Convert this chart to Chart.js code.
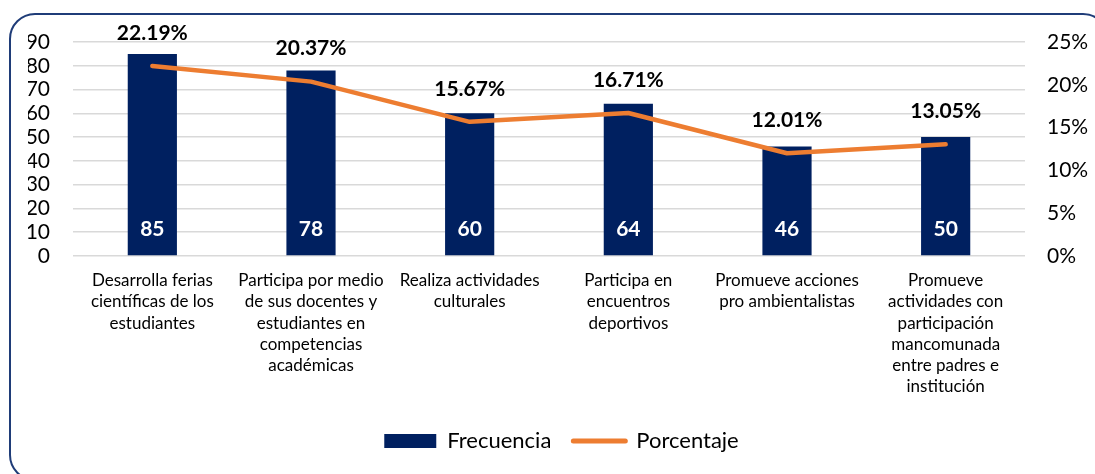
<!DOCTYPE html>
<html>
<head>
<meta charset="utf-8">
<script src="https://cdn.jsdelivr.net/npm/chart.js@4"></script>
<style>
  html, body { margin: 0; padding: 0; background: #fff; overflow: hidden; }
  #wrap { position: relative; width: 1095px; height: 474px; overflow: hidden; }
  #frame {
    position: absolute; left: 9px; top: 13px; width: 1100px; height: 468px;
    border: 2px solid #1f3c78; border-radius: 26px; box-sizing: border-box;
  }
  canvas { position: absolute; left: 0; top: 0; }
</style>
</head>
<body>
<div id="wrap">
  <div id="frame"></div>
  <canvas id="myChart" width="1095" height="474"></canvas>
</div>
<script>
const categories = [
  ['Desarrolla ferias', 'científicas de los', 'estudiantes'],
  ['Participa por medio', 'de sus docentes y', 'estudiantes en', 'competencias', 'académicas'],
  ['Realiza actividades', 'culturales'],
  ['Participa en', 'encuentros', 'deportivos'],
  ['Promueve acciones', 'pro ambientalistas'],
  ['Promueve', 'actividades con', 'participación', 'mancomunada', 'entre padres e', 'institución'],
];
const frecuencia = [85, 78, 60, 64, 46, 50];
const porcentaje = [22.19, 20.37, 15.67, 16.71, 12.01, 13.05];
const leftTicks = [0, 10, 20, 30, 40, 50, 60, 70, 80, 90];
const rightTicks = [0, 5, 10, 15, 20, 25];

const fontFamily = 'Lato, "Open Sans", sans-serif';

// draws the value labels: counts inside bars, percentages above the line
const valueLabels = {
  id: 'valueLabels',
  afterDatasetsDraw(chart) {
    const ctx = chart.ctx;
    ctx.save();
    ctx.textAlign = 'center';
    ctx.textBaseline = 'middle';
    const bars = chart.getDatasetMeta(0).data;
    const yScale = chart.scales.y;
    ctx.font = 'bold 21px ' + fontFamily;
    ctx.fillStyle = '#ffffff';
    bars.forEach((bar, i) => {
      ctx.fillText(String(frecuencia[i]), bar.x, yScale.bottom - 27);
    });
    const points = chart.getDatasetMeta(1).data;
    ctx.fillStyle = '#000000';
    points.forEach((pt, i) => {
      ctx.fillText(porcentaje[i].toFixed(2) + '%', pt.x, pt.y - 33);
    });
    ctx.restore();
  },
};

const ctx = document.getElementById('myChart').getContext('2d');
const myChart = new Chart(ctx, {
  data: {
    labels: categories,
    datasets: [
      {
        type: 'bar',
        label: 'Frecuencia',
        data: frecuencia,
        backgroundColor: '#002060',
        barPercentage: 0.31,
        categoryPercentage: 1,
        yAxisID: 'y',
        order: 2,
      },
      {
        type: 'line',
        label: 'Porcentaje',
        data: porcentaje,
        borderColor: '#ED7D31',
        backgroundColor: '#ED7D31',
        borderWidth: 4.5,
        borderCapStyle: 'round',
        borderJoinStyle: 'round',
        pointRadius: 0,
        tension: 0,
        yAxisID: 'y1',
        order: 1,
      },
    ],
  },
  options: {
    responsive: false,
    animation: false,
    layout: { padding: { top: 42, left: 28, right: 0, bottom: 12 } },
    plugins: {
      tooltip: { enabled: false },
      legend: {
        position: 'bottom',
        labels: {
          font: { family: fontFamily, size: 22 },
          color: '#000',
          usePointStyle: true,
          pointStyleWidth: 52,
          boxHeight: 14,
          padding: 22,
          sort: (a, b) => a.datasetIndex - b.datasetIndex,
          generateLabels(chart) {
            const items = Chart.defaults.plugins.legend.labels.generateLabels(chart);
            items.forEach(item => {
              if (item.datasetIndex === 0) {
                item.pointStyle = 'rect';
                item.lineWidth = 0;
              } else {
                item.pointStyle = 'line';
                item.lineWidth = 5;
                item.lineCap = 'round';
              }
            });
            return items;
          },
        },
      },
    },
    scales: {
      x: {
        grid: { display: false, drawTicks: false },
        border: { display: false },
        ticks: {
          color: '#000',
          font: { family: fontFamily, size: 17, lineHeight: 1.25 },
          padding: 14,
          maxRotation: 0,
          autoSkip: false,
        },
        afterFit(scale) { scale.height = 152; },
      },
      y: {
        position: 'left',
        min: 0,
        max: 90,
        afterBuildTicks(scale) { scale.ticks = leftTicks.map(v => ({ value: v })); },
        grid: { color: '#d9d9d9', lineWidth: 1.5, drawTicks: false },
        border: { display: false },
        ticks: {
          color: '#000',
          font: { family: fontFamily, size: 21 },
          padding: 23,
          autoSkip: false,
        },
        afterFit(scale) { scale.width = 45; },
      },
      y1: {
        position: 'right',
        min: 0,
        max: 25,
        afterBuildTicks(scale) { scale.ticks = rightTicks.map(v => ({ value: v })); },
        grid: { display: false, drawTicks: false },
        border: { display: false },
        ticks: {
          color: '#000',
          font: { family: fontFamily, size: 21 },
          padding: 22,
          autoSkip: false,
          callback: (v) => v + '%',
        },
        afterFit(scale) { scale.width = 70; },
      },
    },
  },
  plugins: [valueLabels],
});
</script>
</body>
</html>
